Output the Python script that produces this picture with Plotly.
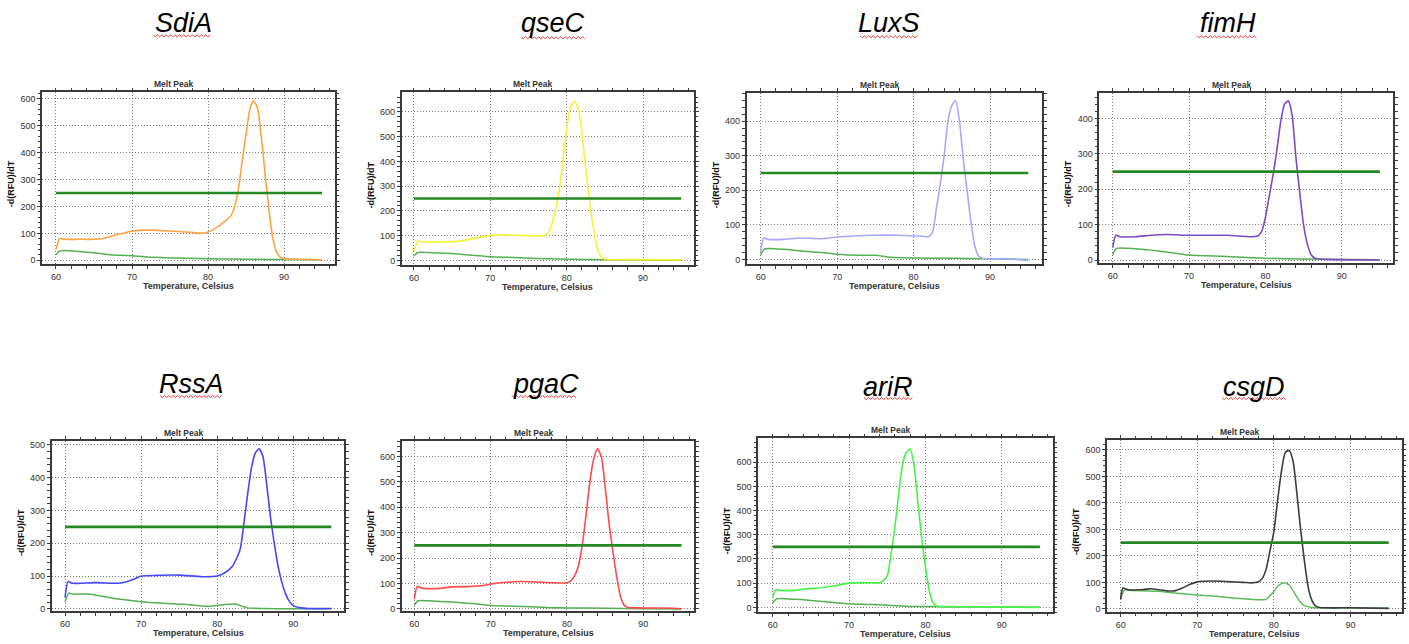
import plotly.graph_objects as go

W, H = 1409, 644

# ---------------- data ----------------
GENES = ["SdiA", "qseC", "LuxS", "fimH", "RssA", "pgaC", "ariR", "csgD"]
THRESHOLD = 250
THRESH_T = [60, 95]

sdia_t = [60, 60.5, 61, 63, 65, 66, 68, 70, 72, 74, 76, 78, 79, 80, 80.7, 82, 83, 83.5, 84, 84.5, 85, 85.5, 86, 86.5, 87, 87.5, 88, 88.5, 89, 89.5, 90, 92, 95]
sdia_v = [40, 82, 78, 78, 78, 80, 95, 108, 112, 110, 107, 103, 100, 105, 114, 140, 165, 200, 265, 370, 470, 560, 592, 565, 460, 320, 190, 85, 32, 12, 6, 4, 2]
sdia_ntc_t = [60, 60.5, 63, 65, 67, 70, 72, 75, 80, 85, 90, 95]
sdia_ntc_v = [20, 35, 33, 28, 21, 17, 12, 9, 6, 4, 3, 2]

qsec_t = [60, 60.5, 61, 63, 66, 68, 70, 72, 75, 77, 77.5, 78, 78.5, 79, 79.5, 80, 80.5, 81, 81.5, 82, 82.5, 83, 83.5, 84, 84.5, 85, 88, 95]
qsec_v = [37, 78, 75, 75, 78, 90, 100, 103, 100, 100, 108, 140, 200, 280, 400, 530, 620, 644, 615, 515, 370, 240, 130, 50, 15, 5, 3, 2]
qsec_ntc_t = [60, 60.5, 63, 65, 68, 70, 73, 76, 80, 85, 90, 95]
qsec_ntc_v = [18, 32, 30, 28, 20, 15, 12, 8, 5, 3, 2, 1]

luxs_t = [60, 60.4, 61, 63, 65, 68, 70, 75, 78, 81, 82, 82.5, 83, 83.5, 84, 84.5, 85, 85.5, 86, 86.5, 87, 87.5, 88, 88.5, 89, 92, 95]
luxs_v = [22, 62, 58, 58, 62, 60, 65, 70, 70, 67, 66, 80, 150, 220, 300, 400, 445, 460, 400, 290, 200, 110, 40, 10, 3, 2, -3]
luxs_ntc_t = [60, 60.5, 63, 65, 68, 70, 73, 75, 77, 80, 85, 95]
luxs_ntc_v = [12, 30, 29, 25, 20, 15, 12, 12, 6, 4, 3, 0]

fimh_t = [60, 60.4, 61, 63, 65, 67, 70, 75, 78, 79, 79.5, 80, 80.5, 81, 81.5, 82, 82.5, 83, 83.5, 84, 84.5, 85, 85.5, 86, 86.5, 88, 95]
fimh_v = [35, 70, 66, 66, 70, 72, 70, 70, 66, 68, 80, 120, 180, 240, 310, 390, 440, 450, 410, 290, 190, 100, 45, 15, 5, 2, 0]
fimh_ntc_t = [60, 60.5, 63, 65, 68, 70, 75, 80, 85, 95]
fimh_ntc_v = [15, 33, 32, 28, 20, 14, 10, 5, 3, 1]

rssa_t = [60, 60.4, 61, 64, 67, 68, 69, 70, 72, 75, 78, 80, 81, 82, 83, 83.5, 84, 84.5, 85, 85.5, 86, 86.5, 87, 87.5, 88, 88.5, 89, 89.5, 90, 91, 92, 95]
rssa_v = [35, 83, 78, 80, 78, 82, 90, 100, 102, 103, 98, 100, 110, 130, 180, 260, 350, 430, 475, 488, 465, 380, 280, 200, 130, 80, 45, 22, 10, 3, 1, 1]
rssa_ntc_t = [60, 60.5, 61, 63, 65, 67, 70, 73, 76, 78, 79, 80, 81, 82, 82.5, 83, 84, 86, 95]
rssa_ntc_v = [20, 48, 45, 45, 38, 30, 22, 17, 13, 9, 8, 10, 13, 15, 14, 10, 3, 1, 0]

pgac_t = [60, 60.4, 61, 63, 65, 67, 69, 70, 72, 74, 76, 78, 80, 80.5, 81, 81.5, 82, 82.5, 83, 83.5, 84, 84.5, 85, 85.5, 86, 86.5, 87, 87.5, 88, 90, 94, 95]
pgac_v = [39, 89, 82, 80, 87, 88, 92, 98, 105, 108, 106, 103, 103, 110, 130, 170, 250, 370, 500, 590, 630, 600, 480, 340, 230, 130, 50, 15, 6, 4, 3, 1]
pgac_ntc_t = [60, 60.5, 63, 65, 68, 70, 73, 76, 78, 80, 85, 90, 95]
pgac_ntc_v = [15, 32, 30, 27, 20, 14, 11, 8, 5, 4, 3, 1, 0]

arir_t = [60, 60.4, 61, 63, 64, 66, 68, 69, 70, 72, 74, 74.5, 75, 75.5, 76, 76.5, 77, 77.5, 78, 78.5, 79, 79.5, 80, 80.5, 81, 81.5, 83, 88, 95]
arir_v = [38, 72, 70, 70, 76, 80, 88, 95, 100, 102, 102, 110, 130, 220, 330, 470, 590, 640, 655, 590, 440, 290, 170, 70, 20, 6, 3, 2, 0]
arir_ntc_t = [60, 60.5, 63, 65, 68, 70, 73, 76, 78, 80, 85, 88, 95]
arir_ntc_v = [18, 35, 33, 28, 20, 15, 12, 7, 4, 3, 2, 2, 0]

csgd_t = [60, 60.3, 61, 63, 64, 65, 66, 67, 68, 69, 70, 72, 74, 76, 77, 78, 78.5, 79, 79.5, 80, 80.5, 81, 81.5, 82, 82.5, 83, 83.5, 84, 84.5, 85, 85.5, 86, 90, 95]
csgd_v = [37, 79, 72, 73, 76, 72, 68, 68, 78, 92, 102, 105, 103, 100, 98, 102, 115, 150, 220, 290, 410, 520, 590, 598, 560, 440, 300, 180, 80, 30, 10, 5, 4, 2]
csgd_ntc_t = [60, 60.5, 61, 63, 65, 67, 70, 73, 75, 77, 78, 79, 79.5, 80, 80.5, 81, 81.5, 82, 82.5, 83, 83.5, 84, 85, 86, 95]
csgd_ntc_v = [37, 72, 70, 68, 66, 60, 52, 46, 40, 36, 34, 36, 50, 65, 85, 96, 98, 90, 70, 45, 25, 12, 5, 4, 2]

SERIES = {
    "SdiA": (sdia_t, sdia_v, sdia_ntc_t, sdia_ntc_v),
    "qseC": (qsec_t, qsec_v, qsec_ntc_t, qsec_ntc_v),
    "LuxS": (luxs_t, luxs_v, luxs_ntc_t, luxs_ntc_v),
    "fimH": (fimh_t, fimh_v, fimh_ntc_t, fimh_ntc_v),
    "RssA": (rssa_t, rssa_v, rssa_ntc_t, rssa_ntc_v),
    "pgaC": (pgac_t, pgac_v, pgac_ntc_t, pgac_ntc_v),
    "ariR": (arir_t, arir_v, arir_ntc_t, arir_ntc_v),
    "csgD": (csgd_t, csgd_v, csgd_ntc_t, csgd_ntc_v),
}
X_TICKS = [60, 70, 80, 90]

# ---------------- styling / layout ----------------
COLORS = {"SdiA": "#ffa443", "qseC": "#f4f434", "LuxS": "#a8a8ff", "fimH": "#7c4cc4",
          "RssA": "#4646ff", "pgaC": "#ff4a4a", "ariR": "#45f545", "csgD": "#3c3c3c"}
NTC_COLORS = {"csgD": "#5cbd5c"}
NTC_DEFAULT = "#55b055"
THRESH_COLOR = "#238a23"

# frame in pixels: left, right, top, bottom ; x-range ; y-range
FRAMES = {
    "SdiA": (42, 335, 92, 265, [58.16, 96.7], [-15, 623]),
    "qseC": (401.7, 694, 92, 266, [58.39, 96.68], [-20, 679]),
    "LuxS": (746.7, 1042.3, 92.3, 265, [58.17, 96.84], [-14.4, 482.6]),
    "fimH": (1099.3, 1393.3, 92.3, 264, [58.24, 96.76], [-9.4, 473]),
    "RssA": (51.7, 344.3, 442.7, 614.3, [58.25, 96.7], [-8, 512]),
    "pgaC": (401.7, 694.3, 442.7, 614.3, [58.35, 96.68], [-10, 661]),
    "ariR": (758, 1052.7, 440, 615, [58.07, 96.68], [-20, 699]),
    "csgD": (1107, 1401.7, 441.7, 615, [58.22, 96.7], [-12.5, 637.5]),
}
# big italic gene labels: (x-center, y-center, underline x0, x1, underline y)
TITLES = {
    "SdiA": (183, 22, 153, 211, 35),
    "qseC": (553, 22, 521, 585, 37),
    "LuxS": (889, 22, 860, 918, 36),
    "fimH": (1228, 22, 1197, 1258, 36),
    "RssA": (191, 385, 160, 222, 398),
    "pgaC": (546, 385, 512, 578, 398),
    "ariR": (888, 388, 864, 913, 400),
    "csgD": (1254, 388, 1222, 1286, 400),
}

FONT = "Liberation Sans, Arial, sans-serif"
fig = go.Figure()
layout = dict(width=W, height=H, margin=dict(l=0, r=0, t=0, b=0), autosize=False,
              paper_bgcolor="white", plot_bgcolor="white", showlegend=False,
              font=dict(family=FONT, color="#333"))
annotations = []
shapes = []

def px(xp):
    return xp / W

def py(yp):
    return 1 - yp / H

def note(text, x, y, size, color="#333", angle=0):
    annotations.append(dict(text=text, x=px(x), y=py(y), xref="paper", yref="paper",
                            xanchor="center", yanchor="middle", showarrow=False,
                            textangle=angle, font=dict(family=FONT, size=size, color=color)))

for i, g in enumerate(GENES):
    n = i + 1
    xa = "x" if n == 1 else f"x{n}"
    ya = "y" if n == 1 else f"y{n}"
    L, R, T, B, xr, yr = FRAMES[g]
    t, v, nt, nv = SERIES[g]

    fig.add_trace(go.Scatter(x=nt, y=nv, mode="lines", xaxis=xa, yaxis=ya,
                             line=dict(color=NTC_COLORS.get(g, NTC_DEFAULT), width=1.5, shape="spline", smoothing=0.6),
                             hoverinfo="skip"))
    fig.add_trace(go.Scatter(x=t, y=v, mode="lines", xaxis=xa, yaxis=ya,
                             line=dict(color=COLORS[g], width=1.6, shape="spline", smoothing=0.6),
                             hoverinfo="skip"))
    fig.add_trace(go.Scatter(x=THRESH_T, y=[THRESHOLD, THRESHOLD], mode="lines", xaxis=xa, yaxis=ya,
                             line=dict(color=THRESH_COLOR, width=2.6), hoverinfo="skip"))

    common = dict(showline=True, linecolor="#3a3a3a", linewidth=1.5, mirror="allticks",
                  ticks="outside", ticklen=3, tickcolor="#3a3a3a", tickwidth=1,
                  showgrid=True, gridcolor="#7a7a7a", griddash="1px,2px", gridwidth=1,
                  zeroline=False, fixedrange=True,
                  tickfont=dict(family=FONT, size=9, color="#333"))
    layout["xaxis" if n == 1 else f"xaxis{n}"] = dict(
        common, domain=[px(L), px(R)], range=xr, anchor=ya, tickvals=X_TICKS,
        minor=dict(dtick=2, tick0=60, ticks="outside", ticklen=2.5, tickcolor="#3a3a3a", showgrid=False))
    layout["yaxis" if n == 1 else f"yaxis{n}"] = dict(
        common, domain=[py(B), py(T)], range=yr, anchor=xa, dtick=100, tick0=0,
        minor=dict(dtick=20, tick0=0, ticks="outside", ticklen=2.5, tickcolor="#3a3a3a", showgrid=False))

    note("<b>Melt Peak</b>", (L + R) / 2 - 15, T - 8, 8.5)
    note("<b>Temperature, Celsius</b>", (L + R) / 2, min(B + 22, 637), 9)
    note("<b>-d(RFU)/dT</b>", L - 31, (T + B) / 2 + 6, 9, color="#111", angle=-90)

    cx, cy, u0, u1, uy = TITLES[g]
    note(f"<i>{g}</i>", cx, cy, 27, color="black")
    # spell-check squiggle (decoration)
    segs = []
    k = 0
    xp = u0
    while xp <= u1:
        yy = uy + (1.1 if k % 2 else -1.1)
        segs.append(f"{px(xp):.5f},{py(yy):.5f}")
        xp += 2.2
        k += 1
    shapes.append(dict(type="path", path="M " + " L ".join(segs), xref="paper", yref="paper",
                       line=dict(color="#e83a3a", width=1)))

layout["annotations"] = annotations
layout["shapes"] = shapes
fig.update_layout(**layout)
fig.write_html("out.html", config={"displayModeBar": False},
               post_script="document.body.style.margin='0';document.body.style.overflow='hidden';")
